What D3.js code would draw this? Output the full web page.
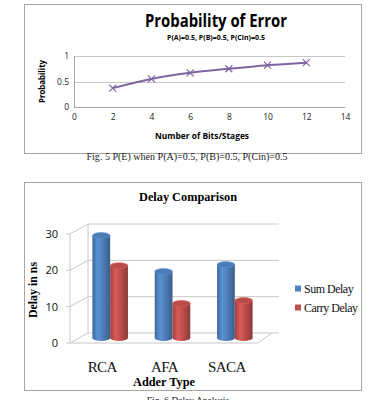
<!DOCTYPE html>
<html>
<head>
<meta charset="utf-8">
<script src="https://cdn.jsdelivr.net/npm/d3@7"></script>
<style>
  body { margin: 0; background: #fff; }
  svg { display: block; }
</style>
</head>
<body>
<div id="chart"></div>
<script>
// ---------------------------------------------------------------
// data

// top chart: probability of error vs number of bits
let bits = [2, 4, 6, 8, 10, 12];
let probError = [0.37, 0.55, 0.67, 0.75, 0.82, 0.87];
let probXTicks = [0, 2, 4, 6, 8, 10, 12, 14];
let probYTicks = [0, 0.5, 1];

// bottom chart: delay comparison
let adders = ["RCA", "AFA", "SACA"];
let seriesNames = ["Sum Delay", "Carry Delay"];
let sumDelay = [28.2, 18.3, 20.2];
let carryDelay = [19.9, 9.5, 10.3];
let delayTicks = [0, 10, 20, 30];

let seriesColors = ["#4f81bd", "#c0504d"];

// ---------------------------------------------------------------
let width = 375, height = 400;

let svg = d3.select("#chart")
  .append("svg")
  .attr("width", width).attr("height", height);

let defs = svg.append("defs");

let sans = "'Open Sans', 'DejaVu Sans', sans-serif";
let serif = "'Liberation Serif', 'DejaVu Serif', serif";
let gridColor = "#c8c8c8";

// =============== top chart ===============
let probChart = svg.append("g");

probChart.append("rect")
  .attr("x", 24.5).attr("y", 4.5)
  .attr("width", 337).attr("height", 149)
  .attr("fill", "#fff").attr("stroke", "#a6a6a6");

probChart.append("text")
  .attr("x", 216).attr("y", 27)
  .attr("text-anchor", "middle")
  .attr("font-family", sans).attr("font-weight", "bold")
  .attr("font-size", 17)
  .attr("textLength", 142).attr("lengthAdjust", "spacingAndGlyphs")
  .text("Probability of Error");

probChart.append("text")
  .attr("x", 216).attr("y", 39.5)
  .attr("text-anchor", "middle")
  .attr("font-family", sans).attr("font-weight", "bold")
  .attr("font-size", 7)
  .attr("textLength", 98).attr("lengthAdjust", "spacingAndGlyphs")
  .text("P(A)=0.5, P(B)=0.5, P(Cin)=0.5");

let px = d3.scaleLinear().domain([0, 14]).range([74, 345]);
let py = d3.scaleLinear().domain([0, 1]).range([107, 56]);

// horizontal gridlines
probChart.append("g")
  .selectAll("line")
  .data(probYTicks)
  .enter()
  .append("line")
  .attr("x1", px(0)).attr("x2", px(14))
  .attr("y1", function(d) { return Math.round(py(d)) + 0.5; })
  .attr("y2", function(d) { return Math.round(py(d)) + 0.5; })
  .attr("stroke", function(d) { return d === 0 ? "#a6a6a6" : gridColor; });

// left axis line
probChart.append("line")
  .attr("x1", px(0) + 0.5).attr("x2", px(0) + 0.5)
  .attr("y1", py(1)).attr("y2", py(0))
  .attr("stroke", "#a6a6a6");

let yAxisTop = d3.axisLeft(py).tickValues(probYTicks).tickSize(0).tickPadding(5)
  .tickFormat(d3.format("~g"));
probChart.append("g")
  .attr("transform", "translate(" + px(0) + ",0)")
  .call(yAxisTop)
  .call(function(g) { g.select(".domain").remove(); })
  .selectAll("text")
  .attr("font-family", sans).attr("font-size", 8.5).attr("fill", "#222");

let xAxisTop = d3.axisBottom(px).tickValues(probXTicks).tickSize(0).tickPadding(7);
probChart.append("g")
  .attr("transform", "translate(0," + py(0) + ")")
  .call(xAxisTop)
  .call(function(g) { g.select(".domain").remove(); })
  .selectAll("text")
  .attr("font-family", sans).attr("font-size", 8.5).attr("fill", "#222");

probChart.append("text")
  .attr("x", 202).attr("y", 139)
  .attr("text-anchor", "middle")
  .attr("font-family", sans).attr("font-weight", "bold").attr("font-size", 8.5)
  .attr("textLength", 94).attr("lengthAdjust", "spacingAndGlyphs")
  .text("Number of Bits/Stages");

probChart.append("text")
  .attr("transform", "translate(45,81.5) rotate(-90)")
  .attr("text-anchor", "middle")
  .attr("font-family", sans).attr("font-weight", "bold").attr("font-size", 8.5)
  .attr("textLength", 43).attr("lengthAdjust", "spacingAndGlyphs")
  .text("Probability");

let probPoints = bits.map(function(b, i) { return [b, probError[i]]; });

let line = d3.line()
  .x(function(d) { return px(d[0]); })
  .y(function(d) { return py(d[1]); })
  .curve(d3.curveMonotoneX);

probChart.append("path")
  .datum(probPoints)
  .attr("d", line)
  .attr("fill", "none")
  .attr("stroke", "#8064a2")
  .attr("stroke-width", 2);

let m = 3.5;
probChart.append("g")
  .selectAll("path")
  .data(probPoints)
  .enter()
  .append("path")
  .attr("d", function(d) {
    let x = px(d[0]), y = py(d[1]);
    return "M" + (x - m) + "," + (y - m) + "L" + (x + m) + "," + (y + m) +
           "M" + (x - m) + "," + (y + m) + "L" + (x + m) + "," + (y - m);
  })
  .attr("stroke", "#7b5fa0")
  .attr("stroke-width", 1.1)
  .attr("fill", "none");

svg.append("text")
  .attr("x", 187).attr("y", 159.5)
  .attr("text-anchor", "middle")
  .attr("font-family", serif).attr("font-size", 9.5)
  .attr("textLength", 201).attr("lengthAdjust", "spacingAndGlyphs")
  .attr("fill", "#222")
  .text("Fig. 5 P(E) when P(A)=0.5, P(B)=0.5, P(Cin)=0.5");

// =============== bottom chart ===============
let delayChart = svg.append("g");

delayChart.append("rect")
  .attr("x", 24.5).attr("y", 182.5)
  .attr("width", 337).attr("height", 208)
  .attr("fill", "#fff").attr("stroke", "#a6a6a6");

delayChart.append("text")
  .attr("x", 188).attr("y", 201)
  .attr("text-anchor", "middle")
  .attr("font-family", serif).attr("font-weight", "bold").attr("font-size", 12.5)
  .attr("textLength", 98).attr("lengthAdjust", "spacingAndGlyphs")
  .text("Delay Comparison");

// 3d box: front plane and a depth offset
let depthX = 18, depthY = -10;
let frontLeft = 70, frontRight = 258;

let dy = d3.scaleLinear().domain([0, 30]).range([343, 234]);

let walls = delayChart.append("g")
  .attr("fill", "none")
  .attr("stroke", gridColor)
  .attr("stroke-width", 1);

// gridlines: left wall diagonal + back wall horizontal
delayTicks.forEach(function(t) {
  let y = dy(t);
  walls.append("path")
    .attr("d", "M" + frontLeft + "," + y +
               "L" + (frontLeft + depthX) + "," + (y + depthY) +
               "L" + (frontRight + depthX + 3) + "," + (y + depthY));
  // small tick on the front edge
  walls.append("line")
    .attr("x1", frontLeft - 4).attr("x2", frontLeft)
    .attr("y1", y).attr("y2", y);
});

// wall edges
walls.append("line")
  .attr("x1", frontLeft).attr("x2", frontLeft)
  .attr("y1", dy(0)).attr("y2", dy(30));
walls.append("line")
  .attr("x1", frontLeft + depthX).attr("x2", frontLeft + depthX)
  .attr("y1", dy(0) + depthY).attr("y2", dy(30) + depthY);
// floor front edge and right edge
walls.append("path")
  .attr("d", "M" + frontLeft + "," + dy(0) +
             "L" + frontRight + "," + dy(0) +
             "L" + (frontRight + depthX - 4) + "," + (dy(0) + depthY));

// y labels
let yAxisBot = d3.axisLeft(dy).tickValues(delayTicks).tickSize(0).tickPadding(12);
delayChart.append("g")
  .attr("transform", "translate(" + frontLeft + ",0)")
  .call(yAxisBot)
  .call(function(g) { g.select(".domain").remove(); })
  .selectAll("text")
  .attr("font-family", sans).attr("font-size", 11).attr("fill", "#111");

// bars sit half way into the depth
let midX = depthX / 2, midY = depthY / 2;

let x0 = d3.scaleBand()
  .domain(adders)
  .range([frontLeft + midX, frontRight + depthX - 3 - midX + 2])
  .paddingInner(0.43)
  .paddingOuter(0.215);

let x1 = d3.scaleBand()
  .domain(seriesNames)
  .range([0, x0.bandwidth()]);

let barRows = [];
adders.forEach(function(a, i) {
  barRows.push({ cat: a, series: seriesNames[0], value: sumDelay[i], ci: 0 });
  barRows.push({ cat: a, series: seriesNames[1], value: carryDelay[i], ci: 1 });
});

// cylinder gradients
seriesColors.forEach(function(c, i) {
  let base = d3.color(c);
  let grad = defs.append("linearGradient")
    .attr("id", "cyl" + i)
    .attr("x1", "0%").attr("x2", "100%").attr("y1", "0%").attr("y2", "0%");
  grad.append("stop").attr("offset", "0%").attr("stop-color", base.darker(0.6));
  grad.append("stop").attr("offset", "30%").attr("stop-color", base.brighter(0.35));
  grad.append("stop").attr("offset", "55%").attr("stop-color", base);
  grad.append("stop").attr("offset", "100%").attr("stop-color", base.darker(0.9));
});

let ry = 3;
let bars = delayChart.append("g")
  .selectAll("g")
  .data(barRows)
  .enter()
  .append("g");

bars.each(function(d) {
  let g = d3.select(this);
  let bx = x0(d.cat) + x1(d.series);
  let bw = x1.bandwidth();
  let yBottom = dy(0) + midY;
  let yTop = dy(d.value) + midY;
  let cx = bx + bw / 2;

  g.append("ellipse")
    .attr("cx", cx).attr("cy", yBottom)
    .attr("rx", bw / 2).attr("ry", ry)
    .attr("fill", "url(#cyl" + d.ci + ")");
  g.append("rect")
    .attr("x", bx).attr("y", yTop)
    .attr("width", bw).attr("height", yBottom - yTop)
    .attr("fill", "url(#cyl" + d.ci + ")");
  g.append("ellipse")
    .attr("cx", cx).attr("cy", yTop)
    .attr("rx", bw / 2).attr("ry", ry)
    .attr("fill", d3.color(seriesColors[d.ci]).darker(0.1))
    .attr("stroke", d3.color(seriesColors[d.ci]).brighter(0.4))
    .attr("stroke-width", 0.6);
});

// category labels
let xAxisBot = d3.axisBottom(x0).tickSize(0).tickPadding(0);
delayChart.append("g")
  .attr("transform", "translate(-8,361)")
  .call(xAxisBot)
  .call(function(g) { g.select(".domain").remove(); })
  .selectAll("text")
  .attr("font-family", serif).attr("font-size", 15).attr("fill", "#111")
  .attr("letter-spacing", -0.6);

delayChart.append("text")
  .attr("x", 164).attr("y", 386)
  .attr("text-anchor", "middle")
  .attr("font-family", serif).attr("font-weight", "bold").attr("font-size", 13)
  .attr("textLength", 62).attr("lengthAdjust", "spacingAndGlyphs")
  .text("Adder Type");

delayChart.append("text")
  .attr("transform", "translate(37,290) rotate(-90)")
  .attr("text-anchor", "middle")
  .attr("font-family", serif).attr("font-weight", "bold").attr("font-size", 12.5)
  .attr("textLength", 56).attr("lengthAdjust", "spacingAndGlyphs")
  .text("Delay in ns");

// legend
let legend = delayChart.append("g")
  .selectAll("g")
  .data(seriesNames)
  .enter()
  .append("g")
  .attr("transform", function(d, i) { return "translate(295," + (289 + i * 19) + ")"; });

legend.append("rect")
  .attr("x", 0).attr("y", -3.5)
  .attr("width", 6).attr("height", 6)
  .attr("fill", function(d, i) { return seriesColors[i]; });

legend.append("text")
  .attr("x", 9).attr("y", 4)
  .attr("font-family", serif).attr("font-size", 12)
  .attr("letter-spacing", -0.5)
  .attr("fill", "#111")
  .text(function(d) { return d; });

svg.append("text")
  .attr("x", 188).attr("y", 404)
  .attr("text-anchor", "middle")
  .attr("font-family", serif).attr("font-size", 9.5)
  .attr("fill", "#222")
  .text("Fig. 6 Delay Analysis");
</script>
</body>
</html>
